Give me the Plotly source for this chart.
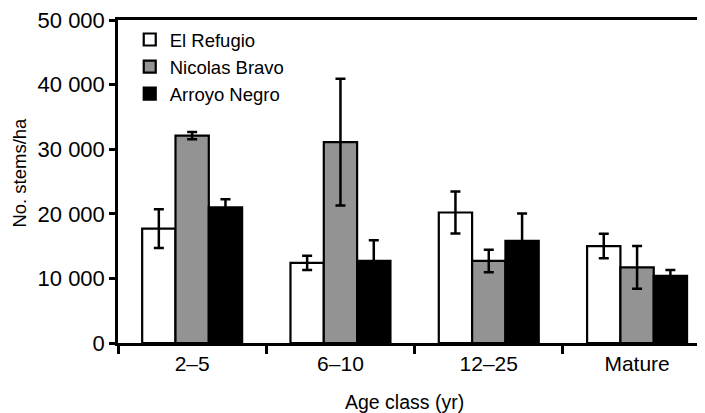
import plotly.graph_objects as go

categories = ["2–5", "6–10", "12–25", "Mature"]
el_refugio = [17700, 12400, 20200, 15000]
el_refugio_err = [3000, 1100, 3250, 1900]
nicolas_bravo = [32100, 31100, 12700, 11700]
nicolas_bravo_err = [550, 9800, 1750, 3300]
arroyo_negro = [21000, 12700, 15800, 10400]
arroyo_negro_err = [1250, 3200, 4250, 900]
y_tickvals = [0, 10000, 20000, 30000, 40000, 50000]
y_ticktext = ["0", "10 000", "20 000", "30 000", "40 000", "50 000"]

FONT = "Liberation Sans, Arial, Helvetica, sans-serif"

# page body has an 8px default margin; compensate so the plot lands in place
OFF = 8
W, H = 705 - OFF, 413 - OFF
L, R, T, B = 118 - OFF, 0, 17 - OFF, 413 - 343
pw, ph = W - L - R, H - T - B


def px_x(x):
    return (x - OFF - L) / pw


def px_y(y):
    return (H - B - (y - OFF)) / ph


def err(vals):
    return dict(type="data", array=vals, visible=True, color="black",
                thickness=2.5, width=5)


fig = go.Figure()
fig.add_trace(go.Bar(name="El Refugio", x=categories, y=el_refugio,
                     marker=dict(color="white", line=dict(color="black", width=2.2)),
                     error_y=err(el_refugio_err)))
fig.add_trace(go.Bar(name="Nicolas Bravo", x=categories, y=nicolas_bravo,
                     marker=dict(color="#939393", line=dict(color="black", width=2.2)),
                     error_y=err(nicolas_bravo_err)))
fig.add_trace(go.Bar(name="Arroyo Negro", x=categories, y=arroyo_negro,
                     marker=dict(color="black", line=dict(color="black", width=2.2)),
                     error_y=err(arroyo_negro_err)))

fig.update_layout(
    width=W, height=H,
    margin=dict(l=L, r=R, t=T, b=B, pad=0),
    paper_bgcolor="white", plot_bgcolor="white",
    font=dict(family=FONT, color="black", size=21),
    barmode="group", bargap=0.326, bargroupgap=0,
    showlegend=True,
    legend=dict(x=0.02, y=0.997, xanchor="left", yanchor="top",
                font=dict(size=18.5, family=FONT), bgcolor="rgba(0,0,0,0)",
                itemwidth=30, tracegroupgap=0),
    xaxis=dict(range=[-0.5, 3.458], showline=True, linecolor="black", linewidth=2.5,
               mirror=True, ticks="outside", ticklen=8, tickwidth=2.5,
               tickcolor="black", tickson="boundaries", showgrid=False,
               tickfont=dict(size=21), zeroline=False),
    yaxis=dict(range=[0, 50000], showline=True, linecolor="black", linewidth=2.5,
               ticks="outside", ticklen=6, tickwidth=2.5, tickcolor="black",
               tickvals=y_tickvals, ticktext=y_ticktext, showgrid=False,
               zeroline=False, tickfont=dict(size=22), ticklabeloverflow="allow"),
    annotations=[
        dict(text="Age class (yr)", xref="paper", yref="paper",
             x=px_x(404), y=px_y(403), xanchor="center", yanchor="middle",
             showarrow=False, font=dict(size=19.5, family=FONT)),
        dict(text="No. stems/ha", xref="paper", yref="paper",
             x=px_x(20), y=px_y(171), xanchor="center", yanchor="middle",
             textangle=-90, showarrow=False, font=dict(size=18.5, family=FONT)),
    ],
)

fig.write_html("out.html")
